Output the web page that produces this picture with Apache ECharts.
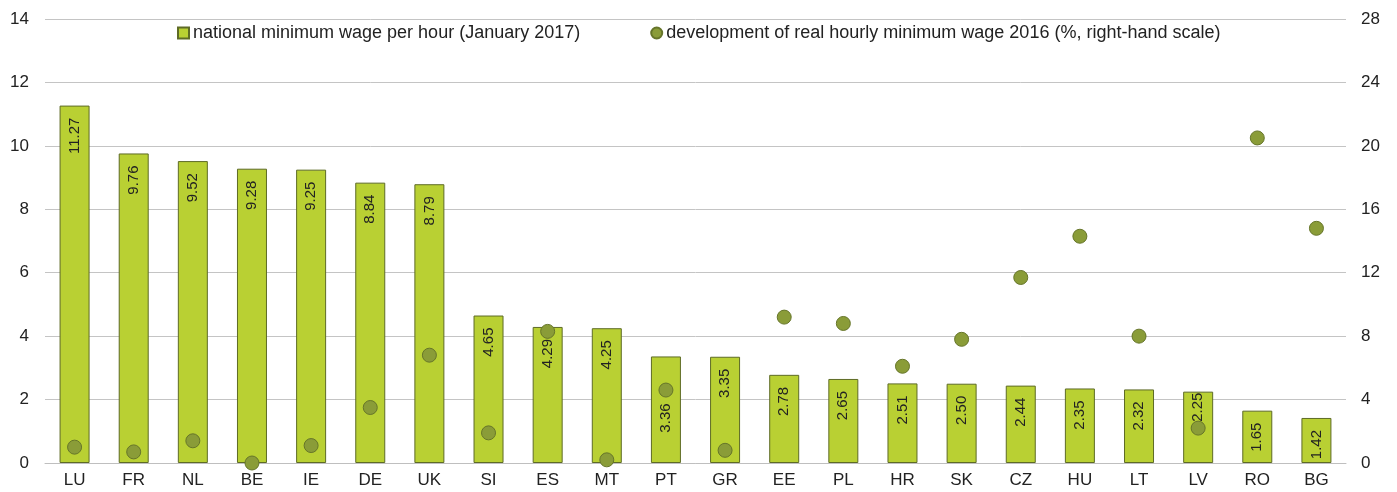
<!DOCTYPE html>
<html>
<head>
<meta charset="utf-8">
<script src="https://cdn.jsdelivr.net/npm/echarts@6/dist/echarts.min.js"></script>
<style>
  html, body { margin: 0; padding: 0; background: #fff; }
  #chart { width: 1397px; height: 492px; }
</style>
</head>
<body>
<div id="chart"></div>
<script>
// Country codes, ordered by hourly minimum wage
const countries = ['LU','FR','NL','BE','IE','DE','UK','SI','ES','MT','PT','GR','EE','PL','HR','SK','CZ','HU','LT','LV','RO','BG'];
// National minimum wage per hour, January 2017 (EUR)
const minWage = [11.27, 9.76, 9.52, 9.28, 9.25, 8.84, 8.79, 4.65, 4.29, 4.25, 3.36, 3.35, 2.78, 2.65, 2.51, 2.50, 2.44, 2.35, 2.32, 2.25, 1.65, 1.42];
// Development of real hourly minimum wage in 2016 (%)
const realGrowth = [1.0, 0.7, 1.4, 0.0, 1.1, 3.5, 6.8, 1.9, 8.3, 0.2, 4.6, 0.8, 9.2, 8.8, 6.1, 7.8, 11.7, 14.3, 8.0, 2.2, 20.5, 14.8];
// Per-country offset of the value label from the bar top
const labelOffset = { PT: 47, LV: 1 };

const barName = 'national minimum wage per hour (January 2017)';
const dotName = 'development of real hourly minimum wage 2016 (%, right-hand scale)';

const font = 'Liberation Sans, Arial, sans-serif';
const textColor = '#222';

const chart = echarts.init(document.getElementById('chart'), null, { renderer: 'canvas' });

const barData = minWage.map((v, i) => {
  const item = { value: v };
  if (labelOffset[countries[i]] !== undefined) {
    item.label = { distance: labelOffset[countries[i]] };
  }
  return item;
});

chart.setOption({
  animation: false,
  textStyle: { fontFamily: font },
  grid: { left: 45, right: 51, top: 19, bottom: 29, containLabel: false },
  legend: {
    top: 19,
    left: 172,
    itemWidth: 11,
    itemHeight: 11,
    itemGap: 70,
    textStyle: { fontFamily: font, fontSize: 18, color: textColor, padding: [0, 0, 0, -1] },
    data: [
      { name: barName, icon: 'rect' },
      { name: dotName, icon: 'circle' }
    ]
  },
  xAxis: {
    type: 'category',
    data: countries,
    axisLine: { lineStyle: { color: '#bfbfbf', width: 1 } },
    axisTick: { show: false },
    axisLabel: { color: textColor, fontSize: 17, fontFamily: font, margin: 9 }
  },
  yAxis: [
    {
      type: 'value', min: 0, max: 14, interval: 2,
      axisLine: { show: false }, axisTick: { show: false },
      axisLabel: { color: textColor, fontSize: 17, fontFamily: font, margin: 16 },
      splitLine: { lineStyle: { color: '#c4c4c4', width: 1 } }
    },
    {
      type: 'value', min: 0, max: 28, interval: 4, position: 'right',
      axisLine: { show: false }, axisTick: { show: false },
      axisLabel: { color: textColor, fontSize: 17, fontFamily: font, margin: 15 },
      splitLine: { show: false }
    }
  ],
  series: [
    {
      name: barName,
      type: 'bar',
      yAxisIndex: 0,
      barWidth: 30,
      data: barData,
      itemStyle: { color: '#b9d033', borderColor: '#5e6b26', borderWidth: 1 },
      label: {
        show: true,
        position: 'insideTop',
        distance: 12,
        rotate: 90,
        align: 'right',
        verticalAlign: 'middle',
        fontSize: 15,
        fontFamily: font,
        color: textColor,
        formatter: p => p.value.toFixed(2)
      }
    },
    {
      name: dotName,
      type: 'scatter',
      yAxisIndex: 1,
      symbol: 'circle',
      symbolSize: 14,
      data: realGrowth,
      itemStyle: { color: '#8a9c38', borderColor: '#66752a', borderWidth: 1, opacity: 1 },
      z: 5
    }
  ]
});
</script>
</body>
</html>
